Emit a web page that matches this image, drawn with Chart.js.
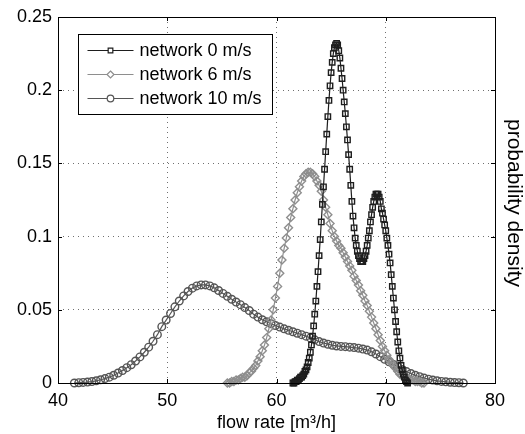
<!DOCTYPE html>
<html>
<head>
<meta charset="utf-8">
<script src="https://cdn.jsdelivr.net/npm/chart.js@4"></script>
<style>
  body { margin: 0; background: #fff; }
  #wrap { width: 525px; height: 434px; }
</style>
</head>
<body>
<div id="wrap"><canvas id="myChart"></canvas></div>
<script>
// series names
const seriesNames = ['network 0 m/s', 'network 6 m/s', 'network 10 m/s'];
// first flow rate and sample step of each density estimate [m3/h]
const flowStart = [61.5, 55.5, 41.5];
const flowStep = [0.1, 0.2, 0.4];

// probability density, network 0 m/s (61.5 .. 72.0)
const dens0 = [
  0.000, 0.000, 0.001, 0.001, 0.002, 0.002, 0.003, 0.004, 0.004, 0.005,
  0.006, 0.008, 0.009, 0.011, 0.014, 0.017, 0.021, 0.026, 0.032, 0.039,
  0.047, 0.056, 0.066, 0.076, 0.087, 0.098, 0.110, 0.122, 0.134, 0.146,
  0.158, 0.170, 0.182, 0.193, 0.203, 0.212, 0.219, 0.225, 0.229, 0.231,
  0.232, 0.231, 0.227, 0.222, 0.215, 0.208, 0.200, 0.192, 0.184, 0.175,
  0.166, 0.156, 0.146, 0.135, 0.124, 0.114, 0.106, 0.099, 0.094, 0.090,
  0.087, 0.085, 0.083, 0.083, 0.083, 0.085, 0.087, 0.090, 0.094, 0.099,
  0.104, 0.110, 0.115, 0.120, 0.124, 0.127, 0.129, 0.129, 0.129, 0.127,
  0.124, 0.119, 0.116, 0.112, 0.108, 0.104, 0.099, 0.094, 0.088, 0.082,
  0.074, 0.066, 0.058, 0.050, 0.042, 0.035, 0.028, 0.022, 0.017, 0.012,
  0.009, 0.006, 0.004, 0.002, 0.001, 0.000
];

// probability density, network 6 m/s (55.5 .. 73.5)
const dens6 = [
  0.000, 0.000, 0.001, 0.001, 0.002, 0.002, 0.003, 0.004, 0.004, 0.005,
  0.007, 0.008, 0.010, 0.012, 0.015, 0.018, 0.022, 0.026, 0.031, 0.037,
  0.043, 0.050, 0.058, 0.066, 0.075, 0.084, 0.092, 0.099, 0.106, 0.113,
  0.119, 0.125, 0.130, 0.134, 0.138, 0.141, 0.143, 0.144, 0.144, 0.143,
  0.141, 0.138, 0.135, 0.131, 0.125, 0.120, 0.115, 0.109, 0.104, 0.100,
  0.097, 0.094, 0.092, 0.089, 0.086, 0.083, 0.080, 0.077, 0.073, 0.070,
  0.067, 0.063, 0.060, 0.056, 0.053, 0.049, 0.045, 0.041, 0.037, 0.033,
  0.029, 0.025, 0.022, 0.019, 0.016, 0.014, 0.012, 0.010, 0.008, 0.006,
  0.005, 0.004, 0.003, 0.003, 0.002, 0.002, 0.001, 0.001, 0.001, 0.000,
  0.000
];

// probability density, network 10 m/s (41.5 .. 77.1)
const dens10 = [
  0.0000, 0.0002, 0.0004, 0.0006, 0.0010, 0.0015, 0.0022, 0.0030, 0.0040, 0.0053,
  0.0068, 0.0085, 0.0105, 0.0125, 0.0150, 0.0178, 0.0210, 0.0245, 0.0285, 0.0330,
  0.0385, 0.0430, 0.0475, 0.0520, 0.0560, 0.0595, 0.0625, 0.0648, 0.0663, 0.0670,
  0.0670, 0.0663, 0.0650, 0.0632, 0.0612, 0.0592, 0.0572, 0.0553, 0.0535, 0.0515,
  0.0495, 0.0470, 0.0450, 0.0432, 0.0418, 0.0405, 0.0393, 0.0382, 0.0370, 0.0360,
  0.0350, 0.0340, 0.0330, 0.0320, 0.0308, 0.0295, 0.0283, 0.0273, 0.0265, 0.0258,
  0.0253, 0.0250, 0.0248, 0.0245, 0.0242, 0.0238, 0.0232, 0.0225, 0.0213, 0.0198,
  0.0180, 0.0162, 0.0145, 0.0127, 0.0110, 0.0093, 0.0078, 0.0065, 0.0053, 0.0043,
  0.0034, 0.0026, 0.0020, 0.0015, 0.0011, 0.0008, 0.0005, 0.0003, 0.0002, 0.0000
];

const FONT = "'Liberation Sans', Arial, Helvetica, sans-serif";
const colors = ['#1e1e1e', '#8e8e8e', '#555555'];
const markers = ['rect', 'rectRot', 'circle'];
const radii = [3.8, 4, 3.8];

function toPoints(vals, i) {
  return vals.map((v, k) => ({ x: flowStart[i] + k * flowStep[i], y: v }));
}

// small marker drawer for the legend
function marker(ctx, style, x, y, r) {
  ctx.beginPath();
  if (style === 'rect') {
    const s = r * Math.SQRT1_2;
    ctx.rect(x - s, y - s, 2 * s, 2 * s);
  } else if (style === 'rectRot') {
    ctx.moveTo(x, y - r); ctx.lineTo(x + r, y); ctx.lineTo(x, y + r); ctx.lineTo(x - r, y); ctx.closePath();
  } else {
    ctx.arc(x, y, r, 0, Math.PI * 2);
  }
  ctx.fillStyle = '#fff';
  ctx.fill();
  ctx.stroke();
}

const framePlugin = {
  id: 'frame',
  afterDraw(chart) {
    const { ctx, chartArea: a, scales: { x, y } } = chart;
    ctx.save();
    ctx.strokeStyle = '#000';
    ctx.lineWidth = 1;
    ctx.setLineDash([]);
    ctx.strokeRect(Math.round(a.left) + 0.5, Math.round(a.top) + 0.5,
      Math.round(a.right - a.left), Math.round(a.bottom - a.top));
    // ticks pointing in, like the matlab box
    ctx.beginPath();
    x.ticks.forEach(t => {
      const px = Math.round(x.getPixelForValue(t.value)) + 0.5;
      ctx.moveTo(px, a.bottom); ctx.lineTo(px, a.bottom - 4);
      ctx.moveTo(px, a.top); ctx.lineTo(px, a.top + 4);
    });
    y.ticks.forEach(t => {
      const py = Math.round(y.getPixelForValue(t.value)) + 0.5;
      ctx.moveTo(a.left, py); ctx.lineTo(a.left + 4, py);
      ctx.moveTo(a.right, py); ctx.lineTo(a.right - 4, py);
    });
    ctx.stroke();

    // legend box
    const lx = Math.round(a.left) + 20.5, ly = Math.round(a.top) + 17.5;
    const lw = 194, lh = 80;
    ctx.fillStyle = '#fff';
    ctx.fillRect(lx, ly, lw, lh);
    ctx.strokeStyle = '#000';
    ctx.strokeRect(lx, ly, lw, lh);
    ctx.font = '18px ' + FONT;
    ctx.textBaseline = 'middle';
    ctx.textAlign = 'left';
    seriesNames.forEach((name, i) => {
      const ry = ly + 16 + i * 24;
      ctx.strokeStyle = colors[i];
      ctx.lineWidth = 1.2;
      ctx.beginPath();
      ctx.moveTo(lx + 9, ry); ctx.lineTo(lx + 55, ry);
      ctx.stroke();
      marker(ctx, markers[i], lx + 32, ry, radii[i] - 0.5);
      ctx.fillStyle = '#000';
      ctx.fillText(name, lx + 61, ry + 1);
    });

    // right hand axis title
    ctx.save();
    ctx.font = '21px ' + FONT;
    ctx.translate(514, (a.top + a.bottom) / 2 + 3);
    ctx.rotate(Math.PI / 2);
    ctx.textAlign = 'center';
    ctx.textBaseline = 'middle';
    ctx.fillStyle = '#000';
    ctx.fillText('probability density', 0, 0);
    ctx.restore();
    ctx.restore();
  }
};

const allSeries = [dens0, dens6, dens10];

new Chart(document.getElementById('myChart'), {
  type: 'scatter',
  data: {
    datasets: allSeries.map((vals, i) => ({
      label: seriesNames[i],
      data: toPoints(vals, i),
      showLine: true,
      borderColor: colors[i],
      borderWidth: 1.2,
      pointStyle: markers[i],
      pointRadius: radii[i],
      pointBorderWidth: 1.4,
      pointBorderColor: colors[i],
      pointBackgroundColor: 'rgba(255,255,255,0)',
      clip: false,
    })),
  },
  plugins: [framePlugin],
  options: {
    responsive: true,
    maintainAspectRatio: false,
    animation: false,
    layout: { padding: { top: 17, right: 30, left: 0, bottom: 0 } },
    plugins: {
      legend: { display: false },
      tooltip: { enabled: false },
    },
    scales: {
      x: {
        type: 'linear',
        min: 40,
        max: 80,
        ticks: { stepSize: 10, color: '#000', padding: 7, font: { family: FONT, size: 18 } },
        grid: { color: '#707070', drawTicks: false },
        border: { display: false, dash: [1, 4] },
        title: {
          display: true,
          text: 'flow rate [m³/h]',
          color: '#000',
          font: { family: FONT, size: 18 },
          padding: { top: 0, bottom: 0 },
        },
        afterFit: s => { s.height = 51; },
      },
      y: {
        min: 0,
        max: 0.25,
        ticks: {
          stepSize: 0.05,
          color: '#000',
          padding: 6,
          font: { family: FONT, size: 18 },
          callback: v => String(+v.toFixed(2)),
        },
        grid: { color: '#707070', drawTicks: false },
        border: { display: false, dash: [1, 4] },
        afterFit: s => { s.width = 58; },
      },
    },
  },
});
</script>
</body>
</html>
